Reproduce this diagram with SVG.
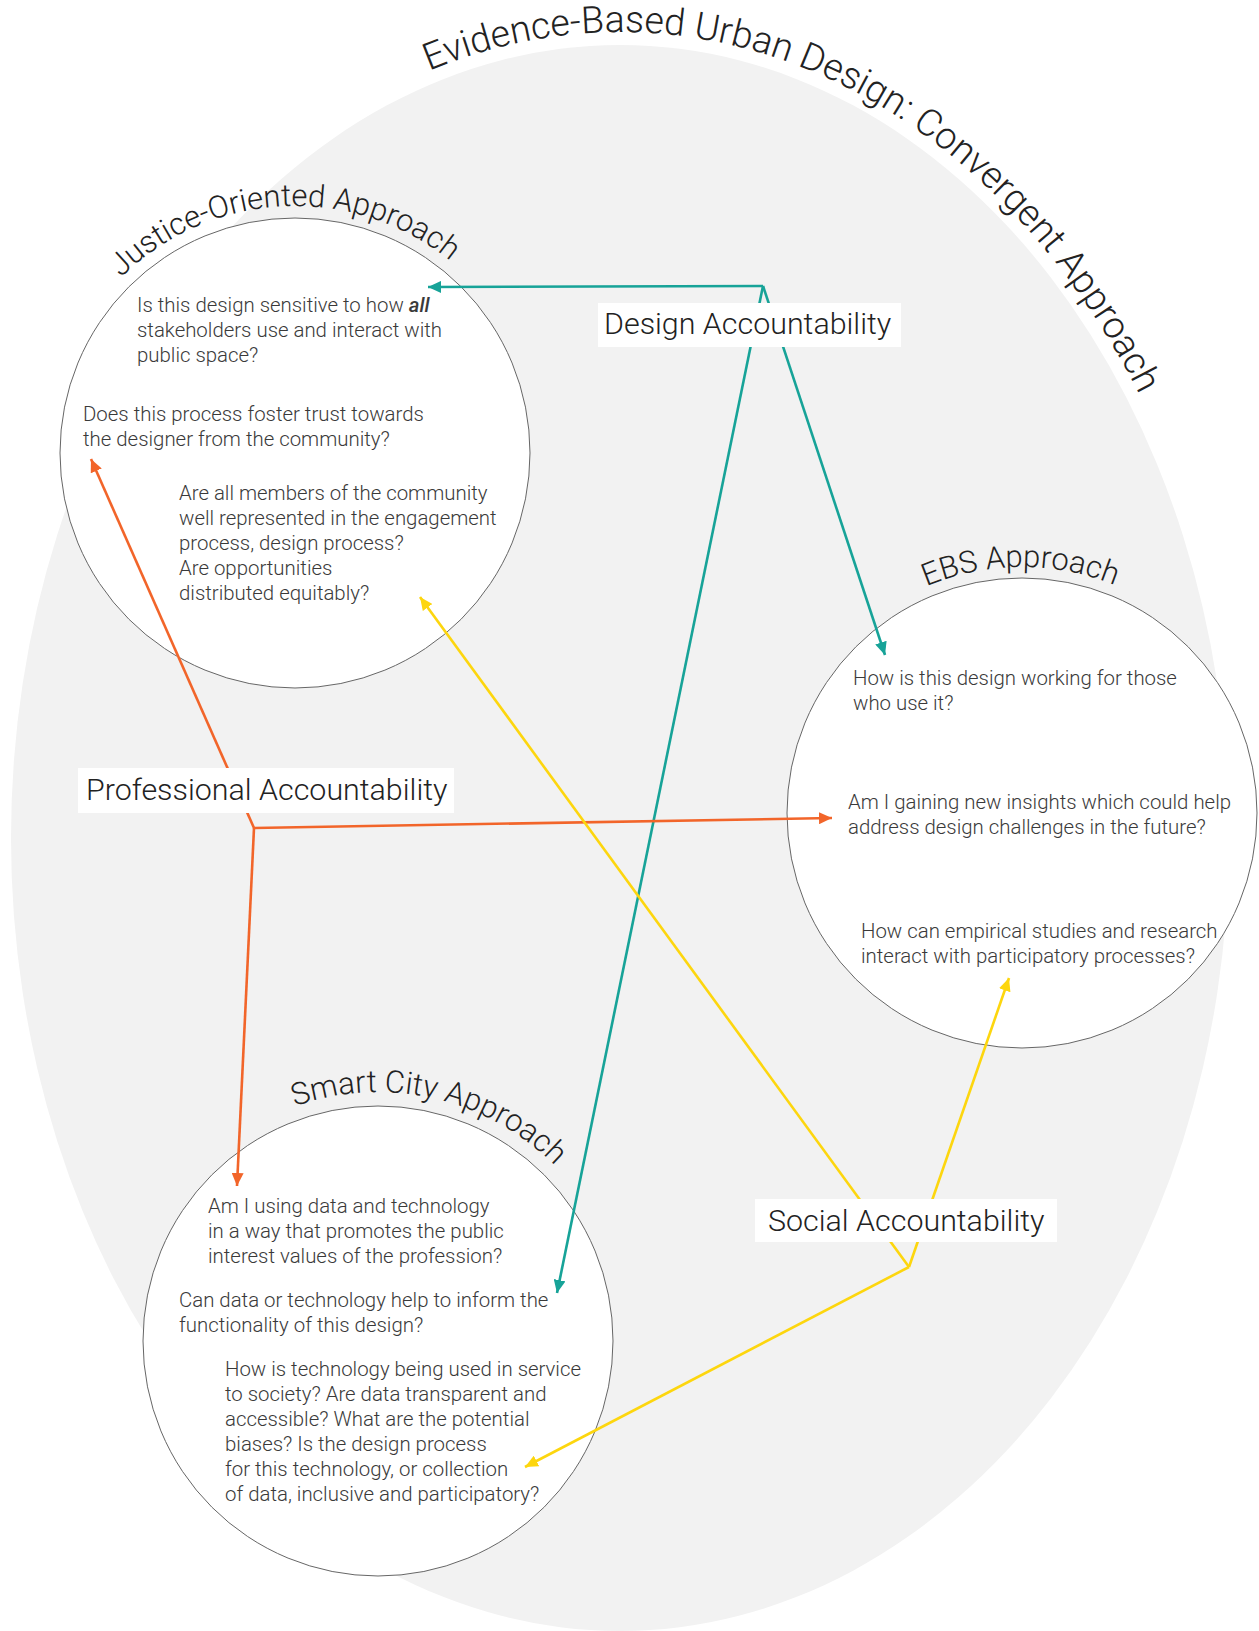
<svg xmlns="http://www.w3.org/2000/svg" width="1259" height="1631" viewBox="0 0 1259 1631">
  <style>
    .q { font-family: Roboto, "Liberation Sans", sans-serif; font-weight: 300; font-size: 20.4px; fill: #3a3a3a; }
    .arc { font-family: Roboto, "Liberation Sans", sans-serif; font-weight: 300; fill: #222; }
    .lbl { font-family: Roboto, "Liberation Sans", sans-serif; font-weight: 300; font-size: 30.4px; fill: #222; }
    .box { fill: #fff; }
    .ring { fill: #fff; stroke: #666; stroke-width: 1; }
    .teal { stroke: #17a398; }
    .orange { stroke: #f2652a; }
    .yellow { stroke: #fdd60e; }
    .wire { fill: none; stroke-width: 2.6; stroke-linejoin: miter; }
  </style>
  <defs>
    <marker id="ah-teal" viewBox="0 0 13 12" refX="13" refY="6" markerWidth="13" markerHeight="12" markerUnits="userSpaceOnUse" orient="auto">
      <path d="M0,0 L13,6 L0,12 z" fill="#17a398"/>
    </marker>
    <marker id="ah-orange" viewBox="0 0 13 12" refX="13" refY="6" markerWidth="13" markerHeight="12" markerUnits="userSpaceOnUse" orient="auto">
      <path d="M0,0 L13,6 L0,12 z" fill="#f2652a"/>
    </marker>
    <marker id="ah-yellow" viewBox="0 0 13 12" refX="13" refY="6" markerWidth="13" markerHeight="12" markerUnits="userSpaceOnUse" orient="auto">
      <path d="M0,0 L13,6 L0,12 z" fill="#fdd60e"/>
    </marker>
    <!-- baselines for curved headings -->
    <path id="p-title" d="M -2 838 A 622 806 0 0 1 1242 838"/>
    <path id="p-justice" d="M 48 453 A 247 247 0 0 1 542 453"/>
    <path id="p-ebs" d="M 776 813 A 246 246 0 0 1 1268 813"/>
    <path id="p-smart" d="M 129 1341 A 249 249 0 0 1 627 1341"/>
  </defs>

  <rect width="1259" height="1631" fill="#fff"/>

  <!-- convergent field -->
  <g id="field">
    <ellipse cx="620" cy="838" rx="609" ry="793" fill="#f2f2f2"/>
    <text class="arc" font-size="37.5"><textPath href="#p-title" startOffset="930">Evidence-Based Urban Design: Convergent Approach</textPath></text>
  </g>

  <!-- approach circles -->
  <g id="justice">
    <circle class="ring" cx="295" cy="453" r="235"/>
    <text class="arc" font-size="31"><textPath href="#p-justice" startOffset="195">Justice-Oriented Approach</textPath></text>
    <text class="q" x="137" y="312">Is this design sensitive to how <tspan font-style="italic" font-weight="500">all</tspan></text>
    <text class="q" x="137" y="337">stakeholders use and interact with</text>
    <text class="q" x="137" y="362">public space?</text>
    <text class="q" x="83" y="421">Does this process foster trust towards</text>
    <text class="q" x="83" y="446">the designer from the community?</text>
    <text class="q" x="179" y="500">Are all members of the community</text>
    <text class="q" x="179" y="525">well represented in the engagement</text>
    <text class="q" x="179" y="550">process, design process?</text>
    <text class="q" x="179" y="575">Are opportunities</text>
    <text class="q" x="179" y="600">distributed equitably?</text>
  </g>

  <g id="ebs">
    <circle class="ring" cx="1022" cy="813" r="235"/>
    <text class="arc" font-size="31"><textPath href="#p-ebs" startOffset="288">EBS Approach</textPath></text>
    <text class="q" x="853" y="685">How is this design working for those</text>
    <text class="q" x="853" y="710">who use it?</text>
    <text class="q" x="848" y="809">Am I gaining new insights which could help</text>
    <text class="q" x="848" y="834">address design challenges in the future?</text>
    <text class="q" x="861" y="938">How can empirical studies and research</text>
    <text class="q" x="861" y="963">interact with participatory processes?</text>
  </g>

  <g id="smart-city">
    <circle class="ring" cx="378" cy="1341" r="235"/>
    <text class="arc" font-size="31"><textPath href="#p-smart" startOffset="306">Smart City Approach</textPath></text>
    <text class="q" x="208" y="1213">Am I using data and technology</text>
    <text class="q" x="208" y="1238">in a way that promotes the public</text>
    <text class="q" x="208" y="1263">interest values of the profession?</text>
    <text class="q" x="179" y="1307">Can data or technology help to inform the</text>
    <text class="q" x="179" y="1332">functionality of this design?</text>
    <text class="q" x="225" y="1376">How is technology being used in service</text>
    <text class="q" x="225" y="1401">to society? Are data transparent and</text>
    <text class="q" x="225" y="1426">accessible? What are the potential</text>
    <text class="q" x="225" y="1451">biases? Is the design process</text>
    <text class="q" x="225" y="1476">for this technology, or collection</text>
    <text class="q" x="225" y="1501">of data, inclusive and participatory?</text>
  </g>

  <!-- accountability connectors -->
  <g id="connectors">
    <path class="wire teal" d="M763 286 L428 287" marker-end="url(#ah-teal)"/>
    <path class="wire teal" d="M763 286 L557 1293" marker-end="url(#ah-teal)"/>
    <path class="wire teal" d="M763 286 L885 655" marker-end="url(#ah-teal)"/>

    <path class="wire orange" d="M254 828 L91 459" marker-end="url(#ah-orange)"/>
    <path class="wire orange" d="M254 828 L832 818" marker-end="url(#ah-orange)"/>
    <path class="wire orange" d="M254 828 L237 1186" marker-end="url(#ah-orange)"/>

    <path class="wire yellow" d="M909 1267 L420 597" marker-end="url(#ah-yellow)"/>
    <path class="wire yellow" d="M909 1267 L1009 978" marker-end="url(#ah-yellow)"/>
    <path class="wire yellow" d="M909 1267 L525 1467" marker-end="url(#ah-yellow)"/>
  </g>

  <!-- accountability labels -->
  <g id="design-accountability">
    <rect class="box" x="598" y="303" width="303" height="44"/>
    <text class="lbl" x="604" y="334">Design Accountability</text>
  </g>
  <g id="professional-accountability">
    <rect class="box" x="78" y="768" width="376" height="45"/>
    <text class="lbl" x="86" y="800">Professional Accountability</text>
  </g>
  <g id="social-accountability">
    <rect class="box" x="755" y="1199" width="302" height="43"/>
    <text class="lbl" x="768" y="1231">Social Accountability</text>
  </g>
</svg>
